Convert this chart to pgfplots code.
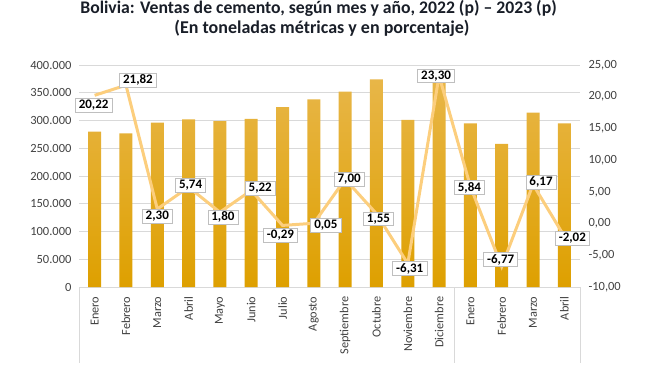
\documentclass[border=0pt]{standalone}
\usepackage{pgfplots}
\pgfplotsset{compat=1.18}
\usepackage{pgfplotstable}
\usepackage{fontspec}
\setmainfont{Carlito}

\definecolor{barTop}{RGB}{232,182,72}
\definecolor{barBot}{RGB}{222,160,0}
\definecolor{lineC}{RGB}{252,206,125}
\definecolor{gridC}{RGB}{217,217,217}
\definecolor{txt}{RGB}{64,64,64}
\definecolor{boxC}{RGB}{191,191,191}
\definecolor{titleC}{RGB}{25,30,40}

\pgfplotstableread{
x y
0 280000
1 277000
2 296000
3 302000
4 299000
5 303000
6 324000
7 338000
8 352000
9 374000
10 301000
11 370000
12 295000
13 258000
14 314000
15 295000
}\sales

\pgfplotstableread{
x y lab dx dy
0 20.22 20,22 -1 -10
1 21.82 21,82 12 5
2 2.30 2,30 0 -7
3 5.74 5,74 2 2
4 1.80 1,80 3 -5
5 5.22 5,22 9 2
6 -0.29 -0,29 -2 -10
7 0.05 0,05 12 -2
8 7.00 7,00 4 0
9 1.55 1,55 2 -5
10 -6.31 -6,31 2 -5
11 23.30 23,30 -3 0
12 5.84 5,84 -1 -1
13 -6.77 -6,77 -1 7
14 6.17 6,17 8 2
15 -2.02 -2,02 8 -2
}\growth

\begin{document}
\begin{tikzpicture}
\path[use as bounding box] (0,0) rectangle (656pt,365pt);
\node[anchor=base, font=\fontsize{17.7}{21}\selectfont\bfseries, text=titleC] at (318.5pt,351pt) {Bolivia: Ventas de cemento, según mes y año, 2022 (p) – 2023 (p)};
\node[anchor=base, font=\fontsize{18}{21}\selectfont\bfseries, text=titleC] at (322pt,331pt) {(En toneladas métricas y en porcentaje)};

\begin{axis}[
  at={(79pt,78pt)}, anchor=south west, scale only axis,
  width=501pt, height=222pt,
  xmin=-0.5, xmax=15.5, ymin=0, ymax=400000,
  ytick={0,50000,...,400000},
  scaled y ticks=false,
  /pgf/number format/assume math mode=true,
  tick label style={text=txt},
  yticklabel style={font=\fontsize{12.5}{14}\selectfont, /pgf/number format/.cd, fixed, 1000 sep={.}},
  ymajorgrids, grid style={gridC, line width=0.8pt},
  axis line style={draw=none},
  major tick length=0,
  xtick={0,...,15},
  xticklabels={Enero,Febrero,Marzo,Abril,Mayo,Junio,Julio,Agosto,Septiembre,Octubre,Noviembre,Diciembre,Enero,Febrero,Marzo,Abril},
  xticklabel style={rotate=90, anchor=east, font=\fontsize{12.3}{14}\selectfont},
  xticklabel shift={6pt},
  yticklabel shift={4pt},
  clip=false,
]
\addplot[ybar, bar width=13pt, draw=none, top color=barTop, bottom color=barBot] table[x=x,y=y]{\sales};
\draw[gridC, line width=0.8pt] (axis cs:-0.5,0) -- ([yshift=-76pt]axis cs:-0.5,0);
\draw[gridC, line width=0.8pt] (axis cs:11.5,0) -- ([yshift=-76pt]axis cs:11.5,0);
\draw[gridC, line width=0.8pt] (axis cs:15.5,0) -- ([yshift=-76pt]axis cs:15.5,0);
\end{axis}

\begin{axis}[
  at={(79pt,78pt)}, anchor=south west, scale only axis,
  width=501pt, height=222pt,
  xmin=-0.5, xmax=15.5, ymin=-10, ymax=25,
  ytick={-10,-5,...,25},
  axis y line*=right, axis x line=none,
  axis line style={draw=none},
  major tick length=0,
  /pgf/number format/assume math mode=true,
  tick label style={text=txt},
  yticklabel style={font=\fontsize{12.5}{14}\selectfont, /pgf/number format/.cd, fixed, fixed zerofill, precision=2, use comma},
  yticklabel shift={5pt},
  clip=false,
]
\addplot[lineC, line width=3pt, mark=none,
  nodes near coords, point meta=explicit symbolic,
  visualization depends on={\thisrow{dx} \as \dx},
  visualization depends on={\thisrow{dy} \as \dy},
  every node near coord/.append style={anchor=center, xshift={\dx pt}, yshift={\dy pt},
    fill=white, draw=boxC, line width=0.6pt, inner xsep=3.5pt, inner ysep=1.8pt,
    font=\fontsize{13}{14}\selectfont\bfseries, text=black}
] table[x=x,y=y,meta=lab]{\growth};
\end{axis}
\end{tikzpicture}
\end{document}
